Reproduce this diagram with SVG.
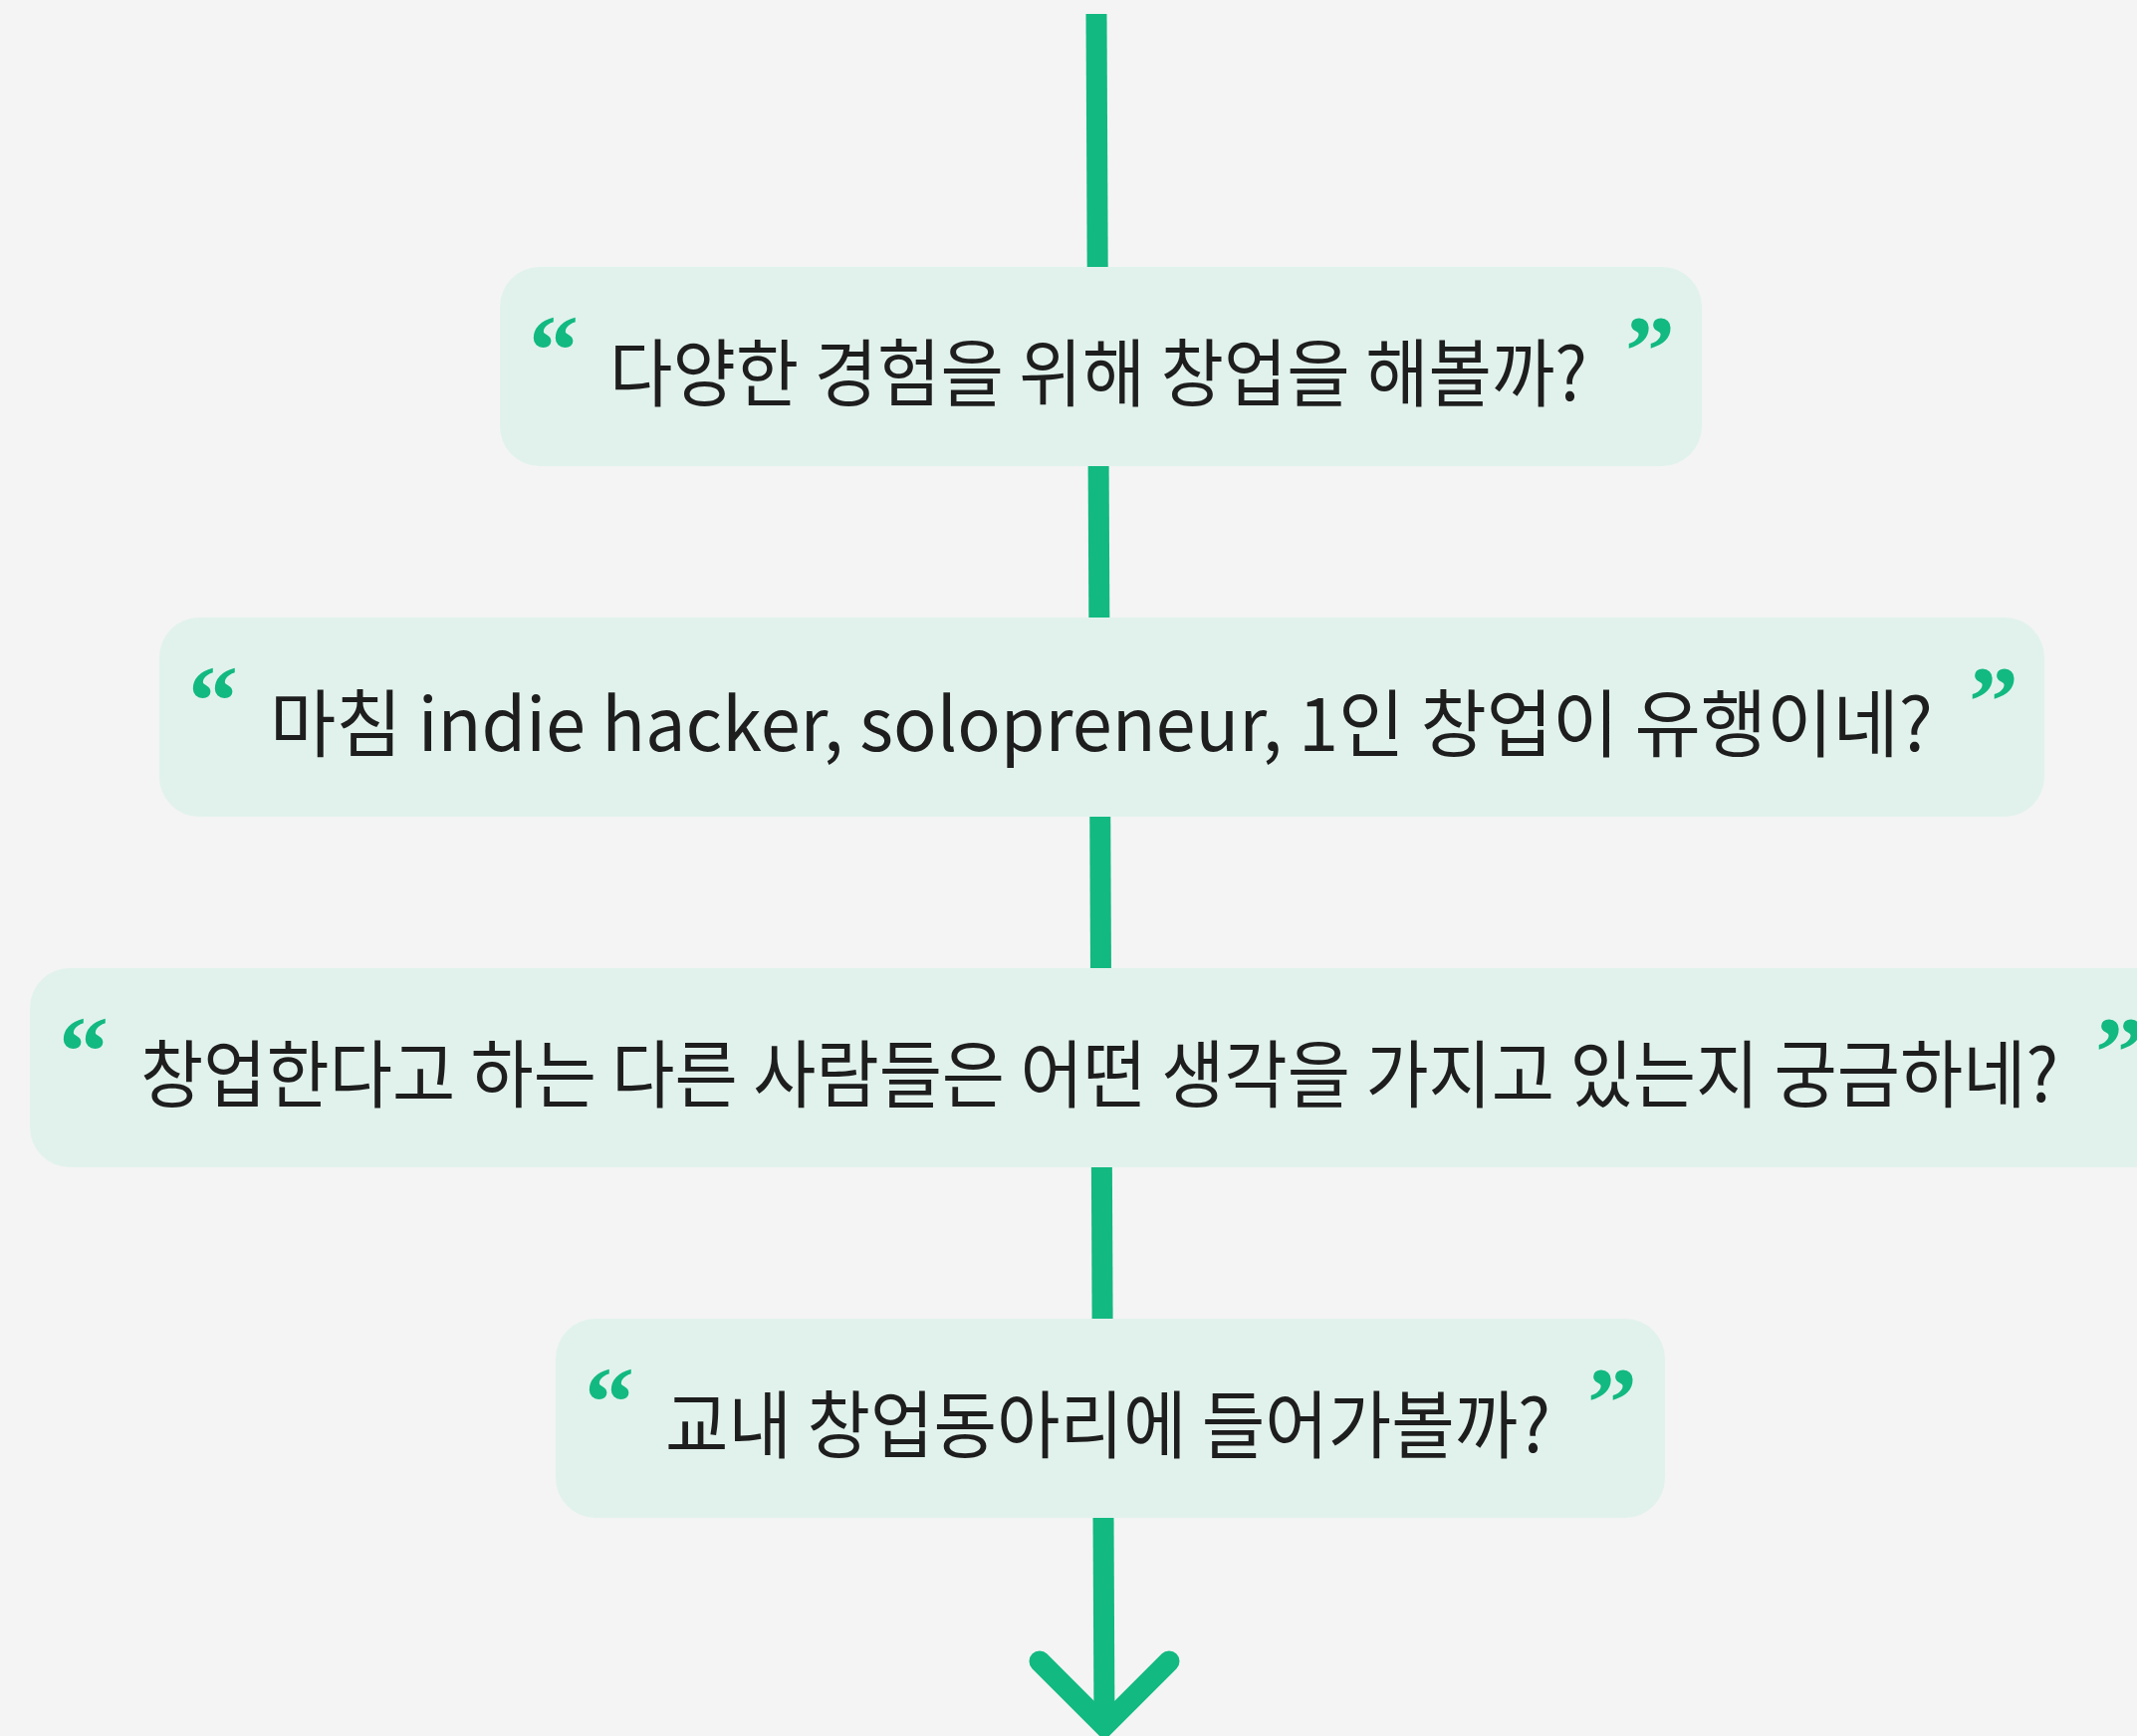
<svg xmlns="http://www.w3.org/2000/svg" width="2146" height="1743" viewBox="0 0 2146 1743">
<defs>
<style>
.box{fill:#e1f2ec}
.t{font-family:"Noto Sans CJK KR","Noto Sans",sans-serif;font-size:74px;fill:#1e1e1e;dominant-baseline:central}
.q{font-family:"Liberation Serif",serif;font-weight:bold;font-size:100px;fill:#12b981}
.ln{stroke:#12b981;stroke-width:21;fill:none}
</style>
</defs>
<rect width="2146" height="1743" fill="#f4f4f4"/>
<g id="connectors">
<line class="ln" x1="1101" y1="14" x2="1109" y2="1735"/>
<polyline class="ln" points="1044,1668 1109,1733 1174,1668" stroke-linecap="round" stroke-linejoin="miter"/>
</g>
<g id="node1">
<rect class="box" x="502" y="268" width="1207" height="200" rx="40"/>
<text class="q" x="531" y="385">“</text>
<text class="t" x="612" y="369" textLength="982" lengthAdjust="spacingAndGlyphs">다양한 경험을 위해 창업을 해볼까?</text>
<text class="q" x="1632" y="385">”</text>
</g>
<g id="node2">
<rect class="box" x="160" y="620" width="1893" height="200" rx="40"/>
<text class="q" x="189" y="737">“</text>
<text class="t" x="271" y="721" textLength="1670" lengthAdjust="spacingAndGlyphs">마침 indie hacker, solopreneur, 1인 창업이 유행이네?</text>
<text class="q" x="1977" y="737">”</text>
</g>
<g id="node3">
<rect class="box" x="30" y="972" width="2200" height="200" rx="40"/>
<text class="q" x="59" y="1089">“</text>
<text class="t" x="141" y="1073" textLength="1926" lengthAdjust="spacingAndGlyphs">창업한다고 하는 다른 사람들은 어떤 생각을 가지고 있는지 궁금하네?</text>
<text class="q" x="2104" y="1089">”</text>
</g>
<g id="node4">
<rect class="box" x="558" y="1324" width="1114" height="200" rx="40"/>
<text class="q" x="587" y="1441">“</text>
<text class="t" x="668" y="1425" textLength="889" lengthAdjust="spacingAndGlyphs">교내 창업동아리에 들어가볼까?</text>
<text class="q" x="1594" y="1441">”</text>
</g>
</svg>
